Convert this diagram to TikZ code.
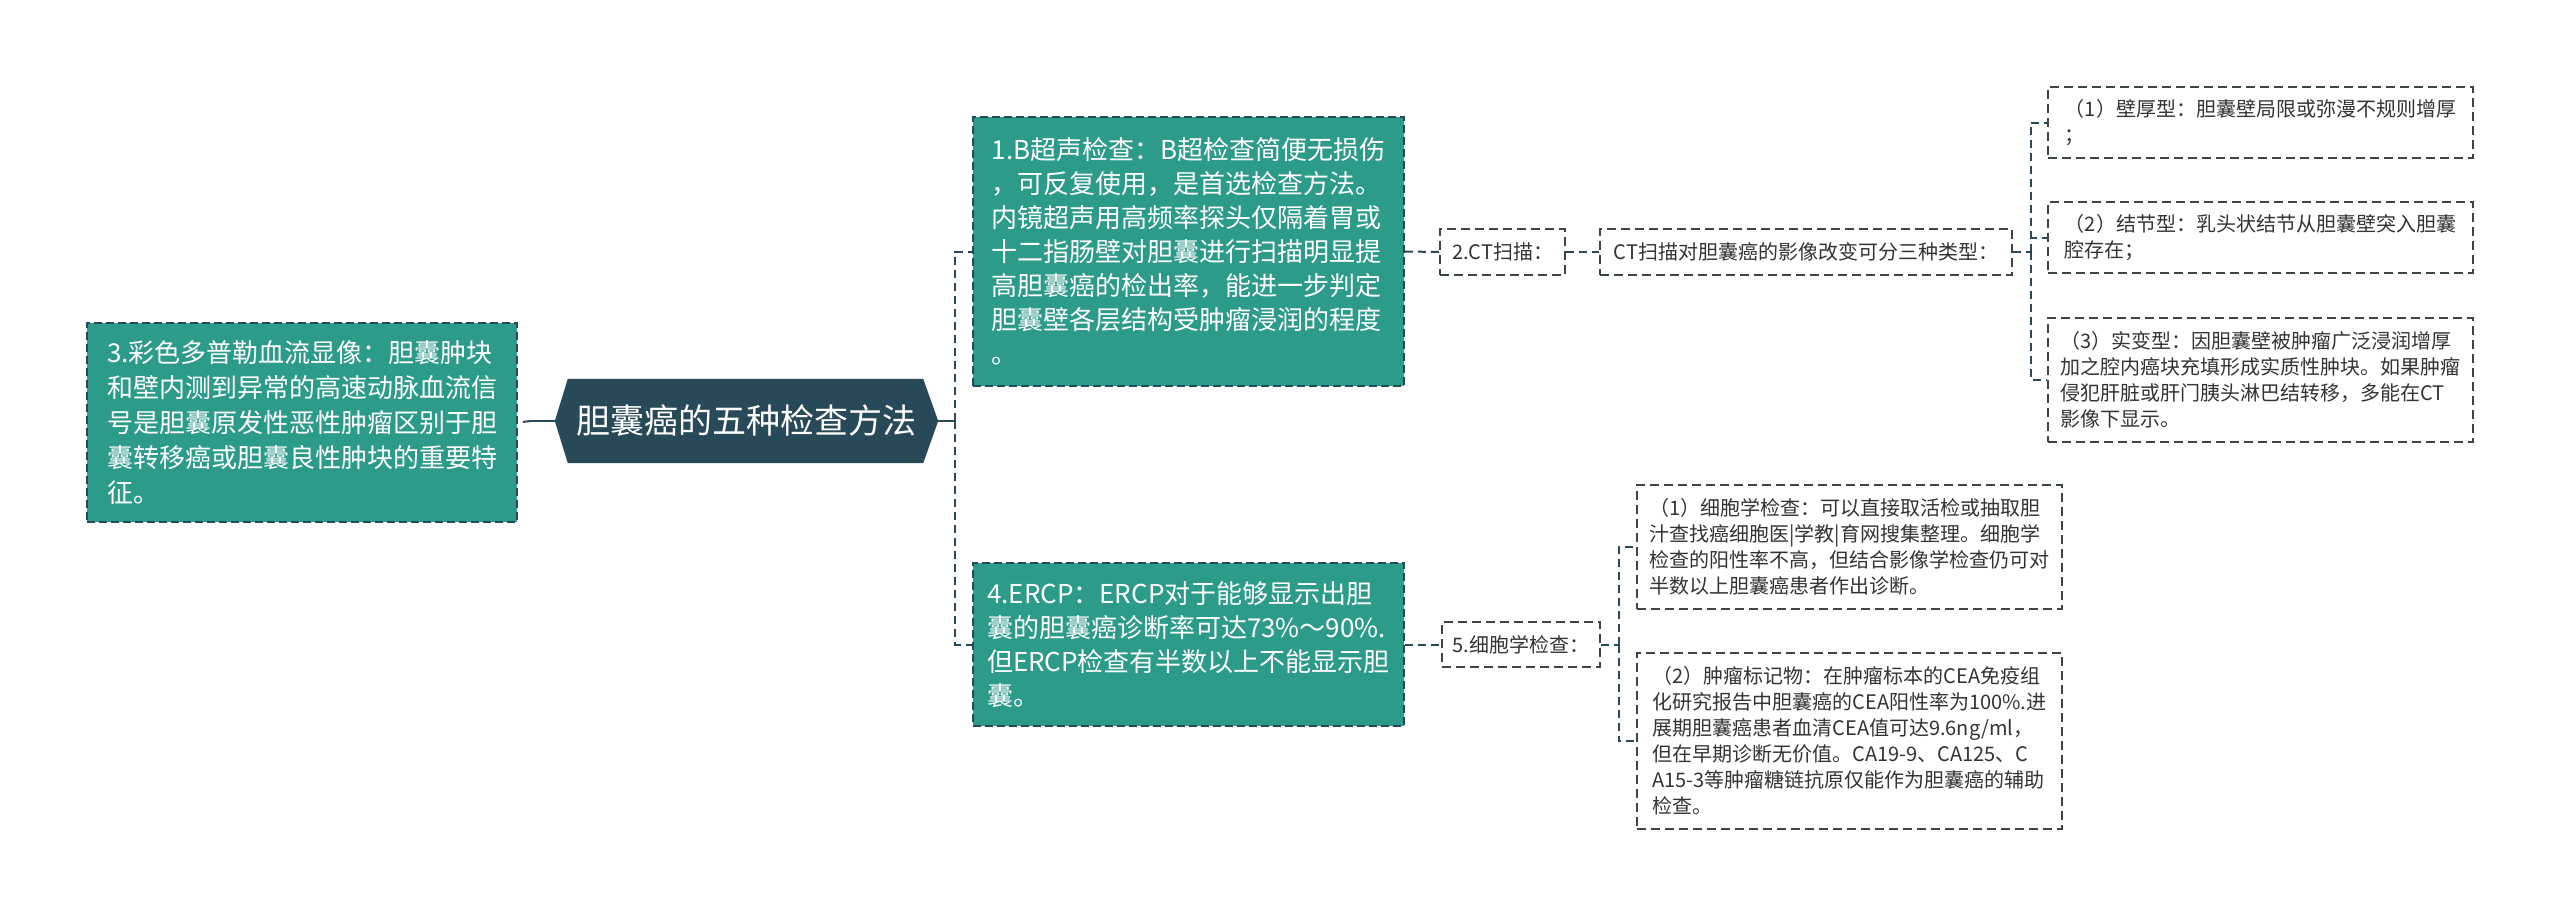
\documentclass[tikz,border=0pt]{standalone}
\usepackage{fontspec}
\setmainfont{Noto Sans CJK SC}
\usetikzlibrary{calc}
\definecolor{tealc}{HTML}{2D9B8A}
\definecolor{hexc}{HTML}{284957}
\definecolor{linec}{HTML}{3A4449}
\definecolor{txtc}{HTML}{333333}
\pgfdeclarelayer{background}
\pgfsetlayers{background,main}
\begin{document}
\begin{tikzpicture}[x=1pt,y=-1pt,
  bigbox/.style={draw=hexc, dash pattern=on 8pt off 4pt, line width=1.6pt, fill=tealc, text=white, align=left, inner sep=0pt, font=\fontsize{26}{34}\selectfont},
  smallbox/.style={draw=linec, dash pattern=on 9pt off 5pt, line width=1.6pt, fill=white, text=txtc, align=left, inner sep=0pt, font=\fontsize{20}{26}\selectfont},
  conn/.style={draw=hexc, line width=2pt, dash pattern=on 8pt off 5pt},
  stem/.style={draw=hexc, line width=2.5pt}]
\useasboundingbox (0,0) rectangle (2560,916);

% central node
\node[text=white, font=\fontsize{34}{40}\selectfont, minimum width=383pt, minimum height=84pt, inner sep=0pt] (hx) at (746.5,421) {胆囊癌的五种检查方法};
\begin{pgfonlayer}{background}
\fill[hexc] (hx.west) -- ($(hx.north west)+(13,0)$) -- ($(hx.north east)+(-15,0)$) -- (hx.east) -- ($(hx.south east)+(-15,0)$) -- ($(hx.south west)+(13,0)$) -- cycle;
\end{pgfonlayer}

% left node
\node[bigbox, font=\fontsize{26}{35}\selectfont, minimum width=430pt, minimum height=199pt] (n3) at (302,422.5) {3.彩色多普勒血流显像：胆囊肿块\\和壁内测到异常的高速动脉血流信\\号是胆囊原发性恶性肿瘤区别于胆\\囊转移癌或胆囊良性肿块的重要特\\征。};

% right big nodes
\node[bigbox, minimum width=431pt, minimum height=269pt] (n1) at (1188.5,251.5) {1.B超声检查：B超检查简便无损伤\\，可反复使用，是首选检查方法。\\内镜超声用高频率探头仅隔着胃或\\十二指肠壁对胆囊进行扫描明显提\\高胆囊癌的检出率，能进一步判定\\胆囊壁各层结构受肿瘤浸润的程度\\。};
\node[bigbox, minimum width=431pt, minimum height=163pt] (n4) at (1188.5,644.5) {4.ERCP：ERCP对于能够显示出胆\\囊的胆囊癌诊断率可达73\%～90\%.\\但ERCP检查有半数以上不能显示胆\\囊。};

% CT branch
\node[smallbox, minimum width=125pt, minimum height=46pt] (ct) at (1502.5,252) {2.CT扫描：};
\node[smallbox, minimum width=412pt, minimum height=46pt] (ctt) at (1806,252) {CT扫描对胆囊癌的影像改变可分三种类型：};
\node[smallbox, minimum width=425pt, minimum height=71pt] (t1) at (2260.5,122.5) {（1）壁厚型：胆囊壁局限或弥漫不规则增厚\\；};
\node[smallbox, minimum width=425pt, minimum height=71pt] (t2) at (2260.5,237.5) {（2）结节型：乳头状结节从胆囊壁突入胆囊\\腔存在；};
\node[smallbox, minimum width=425pt, minimum height=124pt] (t3) at (2260.5,380) {（3）实变型：因胆囊壁被肿瘤广泛浸润增厚\\加之腔内癌块充填形成实质性肿块。如果肿瘤\\侵犯肝脏或肝门胰头淋巴结转移，多能在CT\\影像下显示。};

% cytology branch
\node[smallbox, minimum width=158pt, minimum height=45pt] (n5) at (1521,644.5) {5.细胞学检查：};
\node[smallbox, minimum width=425pt, minimum height=124pt] (c1) at (1849.5,547) {（1）细胞学检查：可以直接取活检或抽取胆\\汁查找癌细胞医|学教|育网搜集整理。细胞学\\检查的阳性率不高，但结合影像学检查仍可对\\半数以上胆囊癌患者作出诊断。};
\node[smallbox, minimum width=425pt, minimum height=176pt] (c2) at (1849.5,741) {（2）肿瘤标记物：在肿瘤标本的CEA免疫组\\化研究报告中胆囊癌的CEA阳性率为100\%.进\\展期胆囊癌患者血清CEA值可达9.6ng/ml，\\但在早期诊断无价值。CA19-9、CA125、C\\A15-3等肿瘤糖链抗原仅能作为胆囊癌的辅助\\检查。};

% connectors
\draw[stem] (hx.west) -- ++(-24,0) coordinate (lj);
\draw[conn] (lj) -- (n3.east);
\draw[stem] (hx.east) -- ++(17,0) coordinate (rj);
\draw[conn] (rj) |- (n1.west);
\draw[conn] (rj) |- (n4.west);
\draw[conn] (n1.east) -- (ct.west);
\draw[conn] (ct.east) -- (ctt.west);
\draw[conn] (ctt.east) -- ++(18,0) coordinate (j2);
\draw[conn] (j2) |- (t1.west);
\draw[conn] (j2) |- (t2.west);
\draw[conn] (j2) |- (t3.west);
\draw[conn] (n4.east) -- (n5.west);
\draw[conn] (n5.east) -- ++(18,0) coordinate (j3);
\draw[conn] (j3) |- (c1.west);
\draw[conn] (j3) |- (c2.west);
\end{tikzpicture}
\end{document}
